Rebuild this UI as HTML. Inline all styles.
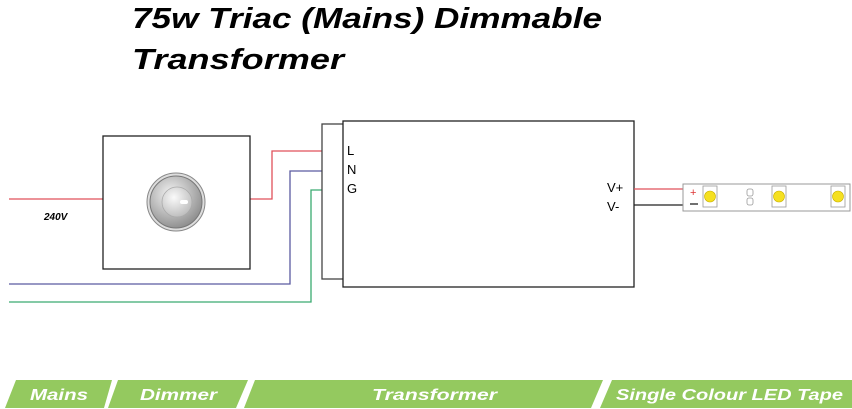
<!DOCTYPE html>
<html><head><meta charset="utf-8"><style>
html,body{margin:0;padding:0;background:#fff;width:852px;height:409px;overflow:hidden}
svg{display:block}
</style></head><body>
<svg width="852" height="409" viewBox="0 0 852 409" xmlns="http://www.w3.org/2000/svg">
<defs>
<radialGradient id="kn" cx="40%" cy="35%" r="70%"><stop offset="0" stop-color="#f4f4f4"/><stop offset="1" stop-color="#8a8a8a"/></radialGradient>
<radialGradient id="kc" cx="40%" cy="35%" r="70%"><stop offset="0" stop-color="#fafafa"/><stop offset="1" stop-color="#bbb"/></radialGradient>
</defs>
<g font-family="Liberation Sans, sans-serif" font-weight="bold" font-style="italic" font-size="29" fill="#000">
<text x="132" y="28" textLength="470" lengthAdjust="spacingAndGlyphs">75w Triac (Mains) Dimmable</text>
<text x="132" y="69" textLength="212" lengthAdjust="spacingAndGlyphs">Transformer</text>
</g>
<polyline points="9,199 103,199" stroke="#e0505a" stroke-width="1.3" fill="none"/>
<polyline points="248,199 272,199 272,151 343,151" stroke="#e0505a" stroke-width="1.3" fill="none"/>
<polyline points="9,284 290,284 290,171 343,171" stroke="#5a5aa0" stroke-width="1.3" fill="none"/>
<polyline points="9,302 311,302 311,190 343,190" stroke="#3aaa70" stroke-width="1.3" fill="none"/>
<text x="44" y="220" font-family="Liberation Sans, sans-serif" font-weight="bold" font-style="italic" font-size="10">240V</text>
<rect x="103" y="136" width="147" height="133" fill="#fff" stroke="#222" stroke-width="1.3"/>
<circle cx="176" cy="202" r="29" fill="#ddd" stroke="#888" stroke-width="1"/>
<circle cx="176" cy="202" r="26" fill="url(#kn)" stroke="#777" stroke-width="1"/>
<circle cx="177" cy="202" r="15" fill="url(#kc)" stroke="#aaa" stroke-width="0.8"/>
<rect x="180" y="200" width="8" height="4" rx="2" fill="#fff"/>
<rect x="322" y="124" width="22" height="155" fill="#fff" stroke="#444" stroke-width="1.3"/>
<rect x="343" y="121" width="291" height="166" fill="#fff" stroke="#222" stroke-width="1.3"/>
<g font-family="Liberation Sans, sans-serif" font-size="13" fill="#000">
<text x="347" y="155">L</text><text x="347" y="174">N</text><text x="347" y="193">G</text>
<text x="607" y="192">V+</text><text x="607" y="211">V-</text>
</g>
<line x1="634" y1="189" x2="684" y2="189" stroke="#e0505a" stroke-width="1.3"/>
<line x1="634" y1="205" x2="684" y2="205" stroke="#222" stroke-width="1.3"/>
<rect x="683" y="184" width="167" height="27" fill="#fff" stroke="#999" stroke-width="1"/>
<text x="690" y="196" font-family="Liberation Sans, sans-serif" font-size="11" fill="#d33">+</text>
<line x1="690" y1="204" x2="698" y2="204" stroke="#222" stroke-width="1.3"/>
<g stroke="#999" fill="#fff" stroke-width="0.8">
<rect x="703" y="186" width="14" height="21"/><rect x="772" y="186" width="14" height="21"/><rect x="831" y="186" width="14" height="21"/>
<rect x="747" y="189" width="6" height="7" rx="2"/><rect x="747" y="198" width="6" height="7" rx="2"/>
</g>
<g fill="#f5e020" stroke="#c8b000" stroke-width="0.6">
<circle cx="710" cy="196.5" r="5.5"/><circle cx="779" cy="196.5" r="5.5"/><circle cx="838" cy="196.5" r="5.5"/>
</g>
<g fill="#94c95f">
<polygon points="16,380 112,380 104,408 5,408"/>
<polygon points="118,380 248,380 236,408 108,408"/>
<polygon points="255,380 603,380 591,408 244,408"/>
<polygon points="612,380 852,380 852,408 600,408"/>
</g>
<g font-family="Liberation Sans, sans-serif" font-weight="bold" font-style="italic" font-size="16" fill="#fff">
<text x="30" y="400" textLength="58" lengthAdjust="spacingAndGlyphs">Mains</text>
<text x="140" y="400" textLength="77" lengthAdjust="spacingAndGlyphs">Dimmer</text>
<text x="372" y="400" textLength="125" lengthAdjust="spacingAndGlyphs">Transformer</text>
<text x="616" y="400" textLength="227" lengthAdjust="spacingAndGlyphs">Single Colour LED Tape</text>
</g>
</svg>
</body></html>
